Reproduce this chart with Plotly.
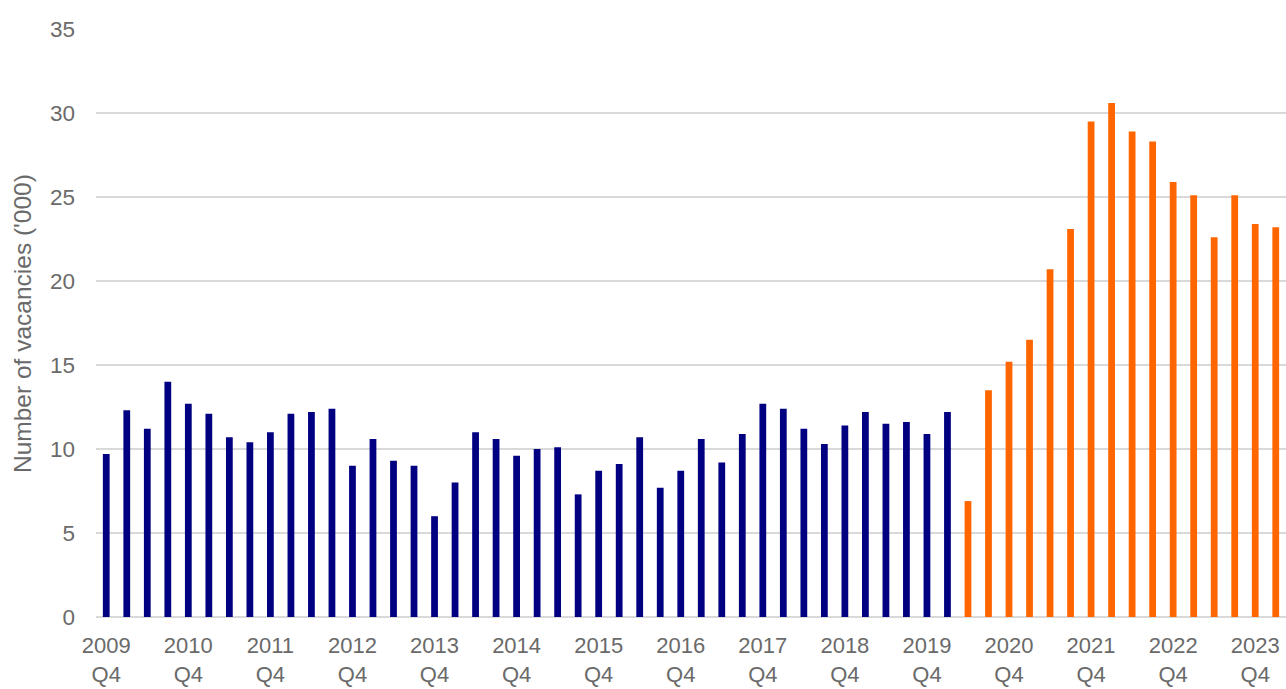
import plotly.graph_objects as go

# Quarterly periods, 2009 Q4 to 2024 Q1
quarters = [f"{y} Q{q}" for y in range(2009, 2025) for q in range(1, 5)]
quarters = quarters[quarters.index("2009 Q4"):quarters.index("2024 Q1") + 1]

# Job vacancies ('000), up to 2020 Q1
vacancies_pre = [
    9.7, 12.3, 11.2, 14.0, 12.7, 12.1, 10.7, 10.4, 11.0, 12.1, 12.2, 12.4,
    9.0, 10.6, 9.3, 9.0, 6.0, 8.0, 11.0, 10.6, 9.6, 10.0, 10.1, 7.3,
    8.7, 9.1, 10.7, 7.7, 8.7, 10.6, 9.2, 10.9, 12.7, 12.4, 11.2, 10.3,
    11.4, 12.2, 11.5, 11.6, 10.9, 12.2,
]
# Job vacancies ('000), from 2020 Q2
vacancies_post = [
    6.9, 13.5, 15.2, 16.5, 20.7, 23.1, 29.5, 30.6, 28.9, 28.3,
    25.9, 25.1, 22.6, 25.1, 23.4, 23.2,
]

quarters_pre = quarters[:len(vacancies_pre)]
quarters_post = quarters[len(vacancies_pre):]

# Year labels on each Q4
tick_vals = [q for q in quarters if q.endswith("Q4")]
tick_text = [q.replace(" ", "<br>") for q in tick_vals]

y_ticks = [0, 5, 10, 15, 20, 25, 30, 35]

font_family = "Liberation Sans, Arial, sans-serif"
text_color = "#6a6a6a"

fig = go.Figure()
fig.add_trace(go.Bar(x=quarters_pre, y=vacancies_pre, marker_color="#000080",
                     marker_line_width=0, width=0.33, name="Pre"))
fig.add_trace(go.Bar(x=quarters_post, y=vacancies_post, marker_color="#FF6600",
                     marker_line_width=0, width=0.33, name="Post"))

fig.update_layout(
    width=1286, height=689,
    margin=dict(l=96, r=0, t=29, b=72),
    plot_bgcolor="white", paper_bgcolor="white",
    showlegend=False, barmode="overlay",
    font=dict(family=font_family, size=22.5, color=text_color),
)
fig.update_xaxes(
    type="category", categoryorder="array", categoryarray=quarters,
    tickmode="array", tickvals=tick_vals, ticktext=tick_text,
    showgrid=False, showline=False, ticks="", ticklabelstandoff=13,
    tickfont=dict(size=22, color=text_color), automargin=False,
)
fig.update_yaxes(
    range=[0, 35], tickvals=y_ticks, showgrid=True, gridcolor="#d9d9d9", gridwidth=1.8,
    zeroline=True, zerolinecolor="#d9d9d9", zerolinewidth=1.8,
    showline=False, ticks="", ticklabelstandoff=20,
    tickfont=dict(size=22.5, color=text_color), automargin=False,
)
fig.add_annotation(
    text="Number of vacancies ('000)", textangle=-90,
    xref="paper", yref="paper", x=-0.0622, y=0.5,
    xanchor="center", yanchor="middle", showarrow=False,
    font=dict(family=font_family, size=24.5, color=text_color),
)

fig.write_html("out.html")
